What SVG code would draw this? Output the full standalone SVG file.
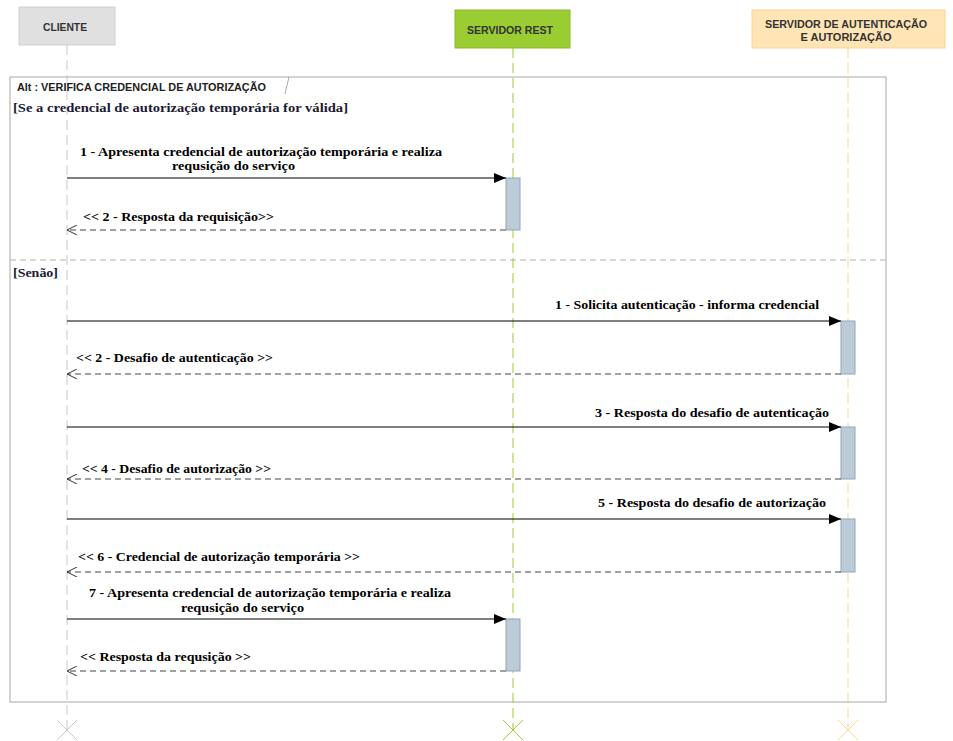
<svg xmlns="http://www.w3.org/2000/svg" width="953" height="741" viewBox="0 0 953 741">
<style>
.hdr{font-family:"Liberation Sans",Arial,sans-serif;font-weight:bold;font-size:11px;fill:#333;text-anchor:middle}
.msg{font-family:"Liberation Serif","Times New Roman",serif;font-weight:bold;font-size:13.5px;fill:#000}
.guard{font-family:"Liberation Serif","Times New Roman",serif;font-weight:bold;font-size:13.5px;fill:#1a1a33}
.tab{font-family:"Liberation Sans",Arial,sans-serif;font-weight:bold;font-size:11px;fill:#222}
.call{stroke:#000;stroke-width:1;fill:none;marker-end:url(#filled)}
.ret{stroke:#444;stroke-width:1;stroke-dasharray:6,4;fill:none;marker-end:url(#open)}
.act{fill:#bccbd8;stroke:#8fa6bc;stroke-width:1}
.ll{stroke-width:1;stroke-dasharray:10,5;fill:none}
</style>
<defs>
<marker id="filled" markerWidth="12" markerHeight="10" refX="12" refY="5" orient="auto" markerUnits="userSpaceOnUse">
<path d="M0,0 L12,5 L0,10 Z" fill="#000"/>
</marker>
<marker id="open" markerWidth="12" markerHeight="10" refX="11" refY="5" orient="auto" markerUnits="userSpaceOnUse">
<path d="M1,0 L11,5 L1,10" fill="none" stroke="#333" stroke-width="1"/>
</marker>
</defs>
<rect width="953" height="741" fill="#fff"/>

<g id="lifelines">
<line class="ll" x1="67" y1="45" x2="67" y2="730" stroke="#c8c8c8"/>
<line class="ll" x1="513" y1="48" x2="513" y2="730" stroke="#9acd32"/>
<line class="ll" x1="848" y1="48" x2="848" y2="730" stroke="#ffd590"/>
<path d="M57,720 L77,740 M77,720 L57,740" stroke="#c8c8c8" stroke-width="1"/>
<path d="M503,720 L523,740 M523,720 L503,740" stroke="#9acd32" stroke-width="1"/>
<path d="M838,720 L858,740 M858,720 L838,740" stroke="#ffd590" stroke-width="1"/>
</g>

<g id="cliente">
<rect x="19" y="7" width="96" height="38" fill="#e0e0e0" stroke="#d0d0d0"/>
<text class="hdr" x="65" y="31" textLength="44" lengthAdjust="spacingAndGlyphs">CLIENTE</text>
</g>
<g id="servidor-rest">
<rect x="455" y="10" width="115" height="38" fill="#9acd32" stroke="#8ab82a"/>
<text class="hdr" x="510" y="34" textLength="86" lengthAdjust="spacingAndGlyphs">SERVIDOR REST</text>
</g>
<g id="servidor-auth">
<rect x="752" y="10" width="193" height="38" fill="#ffe4b5" stroke="#ffd590"/>
<text class="hdr" x="846" y="28" textLength="162" lengthAdjust="spacingAndGlyphs">SERVIDOR DE AUTENTICAÇÃO</text>
<text class="hdr" x="846" y="41">E AUTORIZAÇÃO</text>
</g>

<g id="frame">
<rect x="10" y="77" width="876" height="625" fill="none" stroke="#a8a8a8" stroke-width="1"/>
<line x1="289" y1="77" x2="285" y2="94" stroke="#a8a8a8"/>
<text class="tab" x="17" y="91" textLength="249" lengthAdjust="spacingAndGlyphs">Alt : VERIFICA CREDENCIAL DE AUTORIZAÇÃO</text>
<text class="guard" x="13" y="112" textLength="335" lengthAdjust="spacingAndGlyphs">[Se a credencial de autorização temporária for válida]</text>
<line x1="10" y1="260" x2="886" y2="260" stroke="#b0b0b0" stroke-dasharray="6,4"/>
<text class="guard" x="13" y="277" textLength="45" lengthAdjust="spacingAndGlyphs">[Senão]</text>
</g>

<g id="activations">
<rect class="act" x="506" y="178" width="14" height="52"/>
<rect class="act" x="841" y="321" width="14" height="53"/>
<rect class="act" x="841" y="427" width="14" height="52"/>
<rect class="act" x="841" y="519" width="14" height="53"/>
<rect class="act" x="506" y="619" width="14" height="52"/>
</g>

<g id="connectors">
<line class="call" x1="67" y1="178" x2="506" y2="178"/>
<line class="ret" x1="506" y1="230" x2="67" y2="230"/>
<line class="call" x1="67" y1="321" x2="841" y2="321"/>
<line class="ret" x1="841" y1="374" x2="67" y2="374"/>
<line class="call" x1="67" y1="427" x2="841" y2="427"/>
<line class="ret" x1="841" y1="479" x2="67" y2="479"/>
<line class="call" x1="67" y1="519" x2="841" y2="519"/>
<line class="ret" x1="841" y1="572" x2="67" y2="572"/>
<line class="call" x1="67" y1="619" x2="506" y2="619"/>
<line class="ret" x1="506" y1="671" x2="67" y2="671"/>
</g>

<g id="labels">
<text class="msg" x="80" y="156" textLength="362" lengthAdjust="spacingAndGlyphs">1 - Apresenta credencial de autorização temporária e realiza</text>
<text class="msg" x="172" y="170" textLength="123" lengthAdjust="spacingAndGlyphs">requsição do serviço</text>
<text class="msg" x="83" y="221" textLength="191" lengthAdjust="spacingAndGlyphs">&lt;&lt; 2 - Resposta da requisição&gt;&gt;</text>
<text class="msg" x="555" y="309" textLength="264" lengthAdjust="spacingAndGlyphs">1 - Solicita autenticação - informa credencial</text>
<text class="msg" x="76" y="362" textLength="197" lengthAdjust="spacingAndGlyphs">&lt;&lt; 2 - Desafio de autenticação &gt;&gt;</text>
<text class="msg" x="595" y="417" textLength="234" lengthAdjust="spacingAndGlyphs">3 - Resposta do desafio de autenticação</text>
<text class="msg" x="82" y="473" textLength="189" lengthAdjust="spacingAndGlyphs">&lt;&lt; 4 - Desafio de autorização &gt;&gt;</text>
<text class="msg" x="598" y="507" textLength="228" lengthAdjust="spacingAndGlyphs">5 - Resposta do desafio de autorização</text>
<text class="msg" x="78" y="561" textLength="282" lengthAdjust="spacingAndGlyphs">&lt;&lt; 6 - Credencial de autorização temporária &gt;&gt;</text>
<text class="msg" x="89" y="597" textLength="362" lengthAdjust="spacingAndGlyphs">7 - Apresenta credencial de autorização temporária e realiza</text>
<text class="msg" x="181" y="612" textLength="123" lengthAdjust="spacingAndGlyphs">requsição do serviço</text>
<text class="msg" x="80" y="661" textLength="171" lengthAdjust="spacingAndGlyphs">&lt;&lt; Resposta da requsição &gt;&gt;</text>
</g>
</svg>
